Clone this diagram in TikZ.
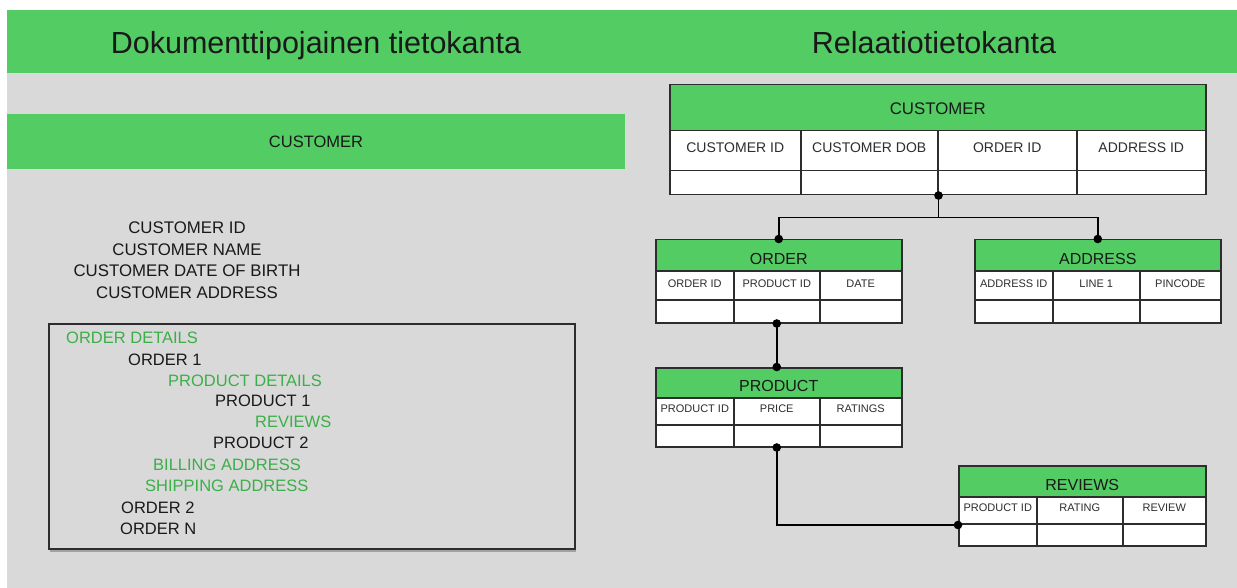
\documentclass[tikz,border=0pt]{standalone}
\usepackage{fontspec}
\setmainfont{Liberation Sans}
\usetikzlibrary{arrows.meta,shadows,calc}
\definecolor{hdrgreen}{RGB}{83,205,99}
\definecolor{bggray}{RGB}{217,217,217}
\definecolor{txtgreen}{RGB}{59,175,72}
\definecolor{linec}{RGB}{45,45,45}
\definecolor{txtdark}{RGB}{25,25,25}
\tikzset{
  titletxt/.style={font=\fontsize{30.5}{36}\selectfont, text=txtdark, text depth=0pt, inner sep=0pt},
  band/.style={fill=hdrgreen, draw=none, inner sep=0pt, anchor=north west},
  attr/.style={font=\fontsize{16.8}{20}\selectfont, text=txtdark, inner sep=0pt},
  doc/.style={font=\fontsize{16.5}{20}\selectfont, inner sep=0pt, anchor=west},
  docg/.style={doc, text=txtgreen},
  docb/.style={doc, text=txtdark},
  hdrbox/.style={fill=hdrgreen, draw=linec, line width=1.5pt, anchor=north west, inner sep=0pt},
  cellbox/.style={fill=white, draw=linec, line width=1.5pt, anchor=north west, inner sep=0pt},
  hdrtxt/.style={font=\fontsize{16}{19}\selectfont, text=txtdark, inner sep=0pt},
  biglbl/.style={font=\fontsize{14}{17}\selectfont, text=linec, inner sep=0pt},
  lbl/.style={font=\fontsize{11}{13}\selectfont, text=linec, inner sep=0pt},
  conn/.style={draw=black, line width=1.5pt, {Circle[length=8.5pt]}-{Circle[length=8.5pt]}, shorten <=-4.25pt, shorten >=-4.25pt},
  connend/.style={draw=black, line width=1.5pt, -{Circle[length=8.5pt]}, shorten >=-4.25pt},
}
\begin{document}
\begin{tikzpicture}[x=1pt,y=-1pt]
\useasboundingbox (0,0) rectangle (1237,588);
\fill[white] (0,0) rectangle (1237,588);
\fill[bggray] (7,73) rectangle (1237,588);
% header band
\node[band, minimum width=1230pt, minimum height=63pt] (topband) at (7,10) {};
\node[titletxt] (t1) at (316,42) {Dokumenttipojainen tietokanta};
\node[titletxt] (t2) at (934,42) {Relaatiotietokanta};

% ---------- document database ----------
\node[band, minimum width=618pt, minimum height=55pt] (custband) at (7,114) {};
\node[attr, font=\fontsize{16.5}{20}\selectfont] (custbandt) at (316,142) {CUSTOMER};
\node[attr] (a1) at (187,228) {CUSTOMER ID};
\node[attr] (a2) at (187,249.5) {CUSTOMER NAME};
\node[attr] (a3) at (187,271) {CUSTOMER DATE OF BIRTH};
\node[attr] (a4) at (187,292.5) {CUSTOMER ADDRESS};
\node[draw=linec, line width=2pt, fill=bggray, minimum width=526pt, minimum height=225pt,
      anchor=north west, inner sep=0pt,
      drop shadow={shadow xshift=1pt, shadow yshift=-3pt, opacity=0.25, fill=black}] (docbox) at (48,323) {};
\node[docg] (d1) at (66,338) {ORDER DETAILS};
\node[docb] (d2) at (128,359.5) {ORDER 1};
\node[docg] (d3) at (168,380.5) {PRODUCT DETAILS};
\node[docb] (d4) at (215,401) {PRODUCT 1};
\node[docg] (d5) at (255,422) {REVIEWS};
\node[docb] (d6) at (213,443) {PRODUCT 2};
\node[docg] (d7) at (153,464.5) {BILLING ADDRESS};
\node[docg] (d8) at (145,486) {SHIPPING ADDRESS};
\node[docb] (d9) at (121,507.5) {ORDER 2};
\node[docb] (d10) at (120,529) {ORDER N};

% ---------- relational database ----------
% CUSTOMER
\node[hdrbox, minimum width=536pt, minimum height=46pt] (custH) at (669,84) {};
\node[hdrtxt, font=\fontsize{16.8}{20}\selectfont] (custHt) at ([yshift=-1pt]custH.center) {CUSTOMER};
\foreach \n/\x/\w/\t in {1/669/131/CUSTOMER ID, 2/800/137/CUSTOMER DOB, 3/937/139/ORDER ID, 4/1076/129/ADDRESS ID}{
  \node[cellbox, minimum width=\w pt, minimum height=40pt] (custl\n) at (\x,130) {};
  \node[biglbl] (custlt\n) at ([yshift=3pt]custl\n.center) {\t};
  \node[cellbox, minimum width=\w pt, minimum height=24pt] (custb\n) at (\x,170) {};
}
% ORDER
\node[hdrbox, minimum width=246pt, minimum height=31pt] (ordH) at (655,239) {};
\node[hdrtxt] (ordHt) at ([yshift=-4pt]ordH.center) {ORDER};
\foreach \n/\x/\w/\t in {1/655/78/ORDER ID, 2/733/86/PRODUCT ID, 3/819/82/DATE}{
  \node[cellbox, minimum width=\w pt, minimum height=29pt] (ordl\n) at (\x,270) {};
  \node[lbl] (ordlt\n) at ([yshift=1.5pt]ordl\n.center) {\t};
  \node[cellbox, minimum width=\w pt, minimum height=23pt] (ordb\n) at (\x,299) {};
}
% ADDRESS
\node[hdrbox, minimum width=246pt, minimum height=31pt] (addrH) at (974,239) {};
\node[hdrtxt] (addrHt) at ([yshift=-4pt]addrH.center) {ADDRESS};
\foreach \n/\x/\w/\t in {1/974/78/ADDRESS ID, 2/1052/87/LINE 1, 3/1139/81/PINCODE}{
  \node[cellbox, minimum width=\w pt, minimum height=29pt] (addrl\n) at (\x,270) {};
  \node[lbl] (addrlt\n) at ([yshift=1.5pt]addrl\n.center) {\t};
  \node[cellbox, minimum width=\w pt, minimum height=23pt] (addrb\n) at (\x,299) {};
}
% PRODUCT
\node[hdrbox, minimum width=246pt, minimum height=30pt] (prodH) at (655,367) {};
\node[hdrtxt] (prodHt) at ([yshift=-3pt]prodH.center) {PRODUCT};
\foreach \n/\x/\w/\t in {1/655/78/PRODUCT ID, 2/733/86/PRICE, 3/819/82/RATINGS}{
  \node[cellbox, minimum width=\w pt, minimum height=27pt] (prodl\n) at (\x,397) {};
  \node[lbl] (prodlt\n) at ([yshift=2.5pt]prodl\n.center) {\t};
  \node[cellbox, minimum width=\w pt, minimum height=22pt] (prodb\n) at (\x,424) {};
}
% REVIEWS
\node[hdrbox, minimum width=247pt, minimum height=31pt] (revH) at (958,465) {};
\node[hdrtxt] (revHt) at ([yshift=-4pt]revH.center) {REVIEWS};
\foreach \n/\x/\w/\t in {1/958/78/PRODUCT ID, 2/1036/86/RATING, 3/1122/83/REVIEW}{
  \node[cellbox, minimum width=\w pt, minimum height=27pt] (revl\n) at (\x,496) {};
  \node[lbl] (revlt\n) at ([yshift=2.5pt]revl\n.center) {\t};
  \node[cellbox, minimum width=\w pt, minimum height=22pt] (revb\n) at (\x,523) {};
}

% connectors
\coordinate (split) at ($(custb2.south east)+(0,22)$);
\draw[conn] (custb2.south east) -- (split) -| (ordH.north);
\draw[connend] (split) -| (addrH.north);
\draw[conn] (ordb2.south) -- (ordb2.south |- prodH.north);
\draw[conn] (prodb2.south) |- ($(revb1.north west)+(0,2)$);
\end{tikzpicture}
\end{document}
